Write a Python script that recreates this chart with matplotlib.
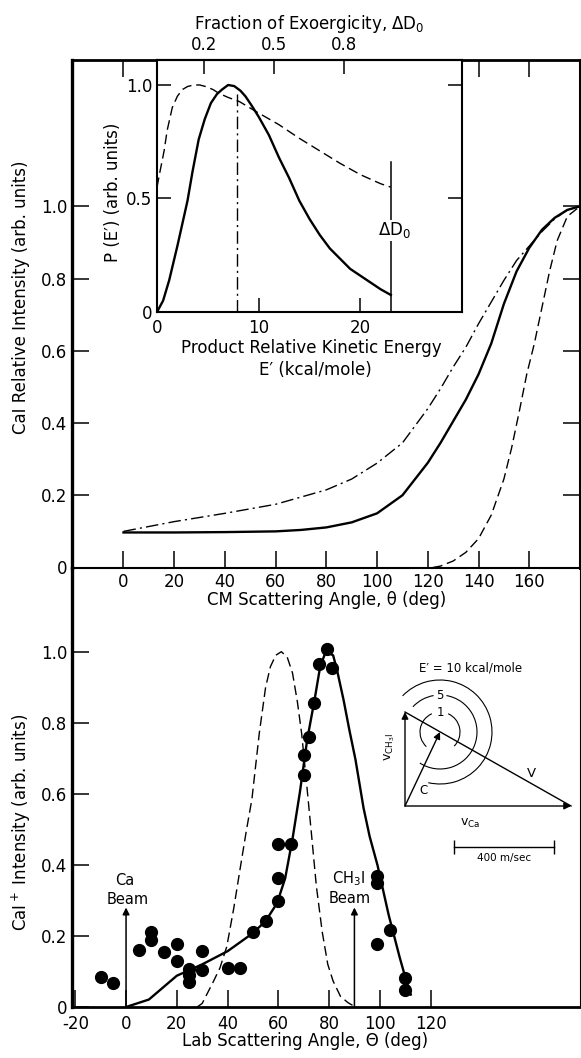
import matplotlib
matplotlib.use("Agg")
import matplotlib.pyplot as plt
from matplotlib.patches import Arc

plt.rcParams['font.family'] = ['DejaVu Sans']
plt.rcParams['mathtext.default'] = 'regular'
plt.rcParams['axes.unicode_minus'] = False

# --- panel superior: distribuciones angulares CM ---
cm_solido_ang = [0, 20, 40, 60, 70, 80, 90, 100, 110, 120, 125, 130, 135, 140, 145,
                 150, 155, 160, 165, 170, 175, 180]
cm_solido = [0.097, 0.097, 0.098, 0.100, 0.104, 0.111, 0.125, 0.150, 0.200, 0.290, 0.345,
             0.405, 0.465, 0.535, 0.620, 0.730, 0.820, 0.885, 0.935, 0.968, 0.990, 1.0]
cm_rayapunto_ang = [0, 20, 40, 60, 80, 90, 100, 110, 120, 125, 130, 135, 140, 145, 150,
                    155, 160, 165, 170, 175, 180]
cm_rayapunto = [0.100, 0.127, 0.150, 0.175, 0.215, 0.245, 0.289, 0.345, 0.440, 0.495, 0.555,
                0.610, 0.675, 0.735, 0.795, 0.850, 0.890, 0.930, 0.965, 0.990, 1.0]
cm_rayas_ang = [122, 125, 130, 135, 140, 145, 150, 153, 156, 159, 162, 165, 168, 171, 175, 180]
cm_rayas = [0.0, 0.004, 0.018, 0.042, 0.080, 0.145, 0.245, 0.330, 0.430, 0.535, 0.620,
            0.720, 0.820, 0.905, 0.972, 1.0]
cm_ticks = [0, 20, 40, 60, 80, 100, 120, 140, 160]
y_ticks = [0, 0.2, 0.4, 0.6, 0.8, 1.0]
y_etiquetas = ['0', '0.2', '0.4', '0.6', '0.8', '1.0']

# --- recuadro: P(E') ---
e_solido = [0, 0.6, 1.2, 2.0, 2.5, 3.0, 3.5, 4.1, 4.7, 5.3, 5.9, 6.4, 7.0, 7.6, 8.2, 8.7,
            9.3, 10, 11, 12, 13, 14, 15, 16, 17, 18, 19, 20, 21, 22, 23]
p_solido = [0, 0.05, 0.14, 0.29, 0.39, 0.49, 0.62, 0.76, 0.85, 0.92, 0.96, 0.98, 1.0, 0.995,
            0.975, 0.95, 0.91, 0.86, 0.78, 0.68, 0.59, 0.49, 0.41, 0.34, 0.28, 0.235, 0.19,
            0.16, 0.13, 0.10, 0.075]
e_rayas = [0, 0.3, 0.7, 1.0, 1.5, 2.0, 2.5, 3.0, 3.6, 4.2, 4.8, 5.5, 6.1, 7.0, 8.1, 9.7, 12,
           14, 16, 18, 20, 22, 23]
p_rayas = [0.55, 0.62, 0.71, 0.80, 0.90, 0.95, 0.98, 0.993, 1.0, 1.0, 0.993, 0.98, 0.963,
           0.945, 0.927, 0.884, 0.825, 0.765, 0.71, 0.655, 0.605, 0.565, 0.55]
e_promedio = 7.9
delta_d0 = 23.0
e_ticks = [0, 10, 20]
fraccion_ticks = [0.2, 0.5, 0.8]

# --- panel inferior: distribucion de laboratorio ---
lab_ang = [-10, -5, 5, 10, 10, 15, 20, 20, 25, 25, 25, 30, 30, 40, 45, 50, 55, 60, 60, 60,
           65, 70, 70, 72, 74, 76, 79, 81, 99, 99, 99, 104, 110, 110]
lab_int = [0.084, 0.068, 0.161, 0.212, 0.189, 0.154, 0.178, 0.130, 0.108, 0.089, 0.071,
           0.158, 0.105, 0.110, 0.110, 0.212, 0.242, 0.299, 0.363, 0.459, 0.459, 0.652,
           0.708, 0.760, 0.857, 0.965, 1.007, 0.955, 0.368, 0.349, 0.177, 0.217, 0.082, 0.047]
lab_ajuste_ang = [0, 9, 20, 30, 40, 50, 55, 59.5, 62.7, 65.6, 68.5, 71.4, 74.3, 76.5, 78.7,
                  81.6, 83.1, 85.7, 88, 90.4, 93.6, 96, 99.1, 103.5, 107.9, 110, 112.2]
lab_ajuste = [0, 0.021, 0.088, 0.120, 0.157, 0.208, 0.242, 0.292, 0.362, 0.473, 0.604, 0.753,
              0.865, 0.958, 1.0, 0.99, 0.95, 0.865, 0.78, 0.697, 0.56, 0.48, 0.399, 0.259,
              0.138, 0.085, 0.035]
lab_rayas_ang = [28, 30, 34.3, 37, 39.7, 42.5, 45.2, 47.5, 49.6, 52.5, 55, 56.9, 59, 61.2,
                 63.5, 65.6, 67.5, 69.2, 71, 72.9, 75, 77.3, 79.5, 81.6, 84.5, 87.5, 90.4]
lab_rayas = [0, 0.01, 0.07, 0.11, 0.17, 0.28, 0.40, 0.50, 0.585, 0.77, 0.90, 0.958, 0.99, 1.0,
             0.985, 0.94, 0.86, 0.77, 0.64, 0.50, 0.34, 0.212, 0.12, 0.073, 0.03, 0.012, 0]
lab_ticks = [-20, 0, 20, 40, 60, 80, 100, 120]
haz_ca = 0
haz_ch3i = 90

# --- diagrama de Newton (m/s) ---
v_ca = 664
v_ch3i = 376
v_cm = (140, 296)
radios = [80, 148, 208]
energias = ['1', '5', 'E′ = 10 kcal/mole']
escala = 400

W, H = 581, 1058


def caja(x0, y0, x1, y1):
    """Rectangulo en pixeles de la figura -> fracciones"""
    return [x0 / W, 1 - y1 / H, (x1 - x0) / W, (y1 - y0) / H]


def punto(x, y):
    return x / W, 1 - y / H


fig = plt.figure(figsize=(W / 100, H / 100), dpi=100)
ax_cm = fig.add_axes(caja(72, 60, 580, 567.5))
ax_lab = fig.add_axes(caja(72, 567.5, 580, 1007))
ax_lab.patch.set_visible(False)  # no tapar las etiquetas del panel superior
ax_in = fig.add_axes(caja(157, 60, 462, 312))
ax_nd = fig.add_axes(caja(384, 661, 580, 866))

rayas = (0, (7, 3.5))
rayapunto = (0, (9, 3, 1.5, 3))

# Panel superior
ax_cm.plot(cm_solido_ang, cm_solido, color='k', lw=1.7)
ax_cm.plot(cm_rayapunto_ang, cm_rayapunto, color='k', lw=1.0, ls=rayapunto)
ax_cm.plot(cm_rayas_ang, cm_rayas, color='k', lw=1.0, ls=rayas)
ax_cm.set_xlim(-20.3, 180)
ax_cm.set_ylim(0, 1.405)
ax_cm.set_xticks(cm_ticks)
ax_cm.set_yticks(y_ticks)
ax_cm.set_yticklabels(y_etiquetas)
ax_cm.tick_params(direction='in', length=12, width=1.1, top=True, right=True,
                  labelsize=12)
ax_cm.tick_params(axis='x', pad=4)
ax_cm.tick_params(axis='y', pad=3.5)
ax_cm.spines['left'].set_linewidth(2.4)
ax_cm.spines['top'].set_linewidth(2.0)
ax_cm.spines['right'].set_linewidth(2.2)
ax_cm.spines['bottom'].set_linewidth(1.5)

# Recuadro
ax_in.plot(e_solido, p_solido, color='k', lw=1.7)
ax_in.plot(e_rayas, p_rayas, color='k', lw=1.0, ls=rayas)
ax_in.plot([e_promedio, e_promedio], [0, 0.96], color='k', lw=1.0, ls=rayapunto)
ax_in.plot([delta_d0, delta_d0], [0, 0.66], color='k', lw=1.1)
ax_in.text(delta_d0 + 0.4, 0.36, 'ΔD$_0$', ha='center', va='center', fontsize=12,
           bbox=dict(fc='white', ec='none', pad=0.5))
ax_in.set_xlim(0, 30)
ax_in.set_ylim(0, 1.11)
ax_in.set_xticks(e_ticks)
ax_in.set_yticks([0, 0.5, 1.0])
ax_in.set_yticklabels(['0', '0.5', '1.0'])
ax_in.tick_params(direction='in', length=10, width=1.1, right=True, labelsize=12)
ax_in.tick_params(axis='x', pad=5)
ax_in.tick_params(axis='y', pad=3.5)
for s in ax_in.spines.values():
    s.set_linewidth(1.5)
sec = ax_in.secondary_xaxis('top', functions=(lambda e: e / delta_d0,
                                               lambda f: f * delta_d0))
sec.set_xticks(fraccion_ticks)
sec.tick_params(direction='in', length=10, width=1.1, labelsize=12, pad=4)
sec.spines['top'].set_linewidth(1.5)
sec.set_xlabel('Fraction of Exoergicity, ΔD$_0$', fontsize=12, labelpad=5)

# Panel inferior
ax_lab.plot(lab_rayas_ang, lab_rayas, color='k', lw=1.0, ls=rayas)
ax_lab.plot(lab_ajuste_ang, lab_ajuste, color='k', lw=1.7)
ax_lab.plot(lab_ang, lab_int, 'o', color='k', ms=8.5, zorder=4)
flecha = dict(arrowstyle='-|>', lw=1.1, color='k', mutation_scale=10, shrinkA=0, shrinkB=0)
ax_lab.annotate('', xy=(haz_ca, 0.28), xytext=(haz_ca, 0), arrowprops=flecha)
ax_lab.annotate('', xy=(haz_ch3i, 0.28), xytext=(haz_ch3i, 0), arrowprops=flecha)
ax_lab.text(haz_ca - 0.5, 0.355, 'Ca', ha='center', va='center', fontsize=10.5)
ax_lab.text(haz_ca + 0.7, 0.302, 'Beam', ha='center', va='center', fontsize=10.5)
ax_lab.text(haz_ch3i - 2.5, 0.362, 'CH$_3$I', ha='center', va='center', fontsize=10.5)
ax_lab.text(haz_ch3i - 1.8, 0.305, 'Beam', ha='center', va='center', fontsize=10.5)
ax_lab.set_xlim(-21.3, 178.9)
ax_lab.set_ylim(0, 1.237)
ax_lab.set_xticks(lab_ticks)
ax_lab.set_yticks(y_ticks)
ax_lab.set_yticklabels(y_etiquetas)
ax_lab.tick_params(direction='in', length=12, width=1.1, labelsize=12)
ax_lab.tick_params(axis='x', pad=6)
ax_lab.tick_params(axis='y', pad=3.5)
ax_lab.spines['top'].set_visible(False)
ax_lab.spines['left'].set_linewidth(2.4)
ax_lab.spines['bottom'].set_linewidth(2.0)
ax_lab.spines['right'].set_linewidth(0.8)

# Diagrama de Newton
ax_nd.axis('off')
ax_nd.set_xlim(-84, 700)
ax_nd.set_ylim(-240, 580)
fl = dict(arrowstyle='-|>', lw=1.0, color='k', mutation_scale=10, shrinkA=0, shrinkB=0)
ax_nd.annotate('', xy=(v_ca, 0), xytext=(0, 0), arrowprops=fl)
ax_nd.annotate('', xy=(0, v_ch3i), xytext=(0, 0), arrowprops=fl)
ax_nd.annotate('', xy=v_cm, xytext=(0, 0), arrowprops=fl)
ax_nd.plot([0, v_ca], [v_ch3i, 0], color='k', lw=1.0)
tramos = [[(114, 227), (-45, 66)], [(100, 137), (-123, 80)], [(-103, 136)]]
for r, arcos in zip(radios, tramos):
    for t1, t2 in arcos:
        ax_nd.add_patch(Arc(v_cm, 2 * r, 2 * r, theta1=t1, theta2=t2, color='k', lw=0.8))
ax_nd.text(v_cm[0], v_cm[1] + radios[0], energias[0], ha='center', va='center', fontsize=8.5)
ax_nd.text(v_cm[0], v_cm[1] + radios[1], energias[1], ha='center', va='center', fontsize=8.5)
ax_nd.text(264, 552, energias[2], ha='center', va='center', fontsize=8.5)
ax_nd.text(-60, 237, 'v$_{CH_3I}$', ha='center', va='center', fontsize=9, rotation=90)
ax_nd.text(260, -69, 'v$_{Ca}$', ha='center', va='center', fontsize=9)
ax_nd.text(507, 131, 'V', ha='center', va='center', fontsize=9.5)
ax_nd.text(73, 64, 'C', ha='center', va='center', fontsize=8.5)
ax_nd.plot([196, 196 + escala], [-164, -164], color='k', lw=1.0, marker='|', ms=10, mew=1.0)
ax_nd.text(196 + escala / 2, -208, f'{escala} m/sec', ha='center', va='center', fontsize=7.5)

# Etiquetas de ejes
fig.text(*punto(21, 297), 'CaI Relative Intensity (arb. units)', rotation=90,
         ha='center', va='center', fontsize=12)
fig.text(*punto(327, 600), 'CM Scattering Angle, θ (deg)', ha='center', va='center',
         fontsize=12)
fig.text(*punto(113, 192), 'P (E′) (arb. units)', rotation=90, ha='center', va='center',
         fontsize=12)
fig.text(*punto(311, 348), 'Product Relative Kinetic Energy', ha='center', va='center',
         fontsize=12)
fig.text(*punto(315, 370), 'E′ (kcal/mole)', ha='center', va='center', fontsize=12)
fig.text(*punto(21, 822), 'CaI$^+$ Intensity (arb. units)', rotation=90,
         ha='center', va='center', fontsize=12)
fig.text(*punto(305, 1041), 'Lab Scattering Angle, Θ (deg)', ha='center', va='center',
         fontsize=12)

fig.savefig('out.png', dpi=100)
